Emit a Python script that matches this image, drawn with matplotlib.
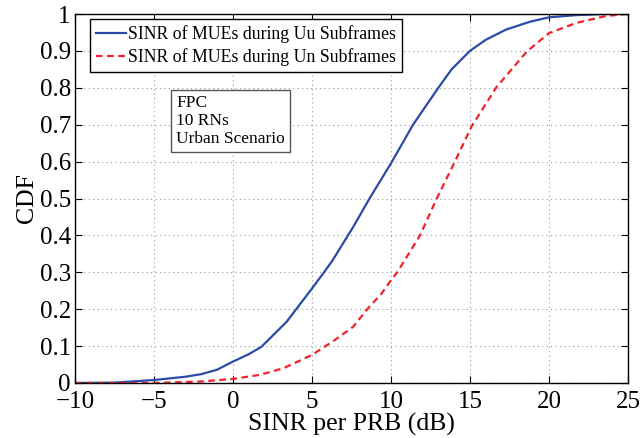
import matplotlib
matplotlib.use("Agg")
from matplotlib import pyplot as plt

# SINR per PRB (dB) vs CDF
uu_x = [-10, -7.5, -5, -3, -2, -1, 0, 1, 1.8, 3.4, 5, 5.8, 6.3, 7.6, 8.7, 10,
        11.4, 13.0, 13.84, 15, 16, 17.3, 18.8, 20, 21.75, 23.5, 25]
uu_y = [0, 0.001, 0.008, 0.017, 0.024, 0.036, 0.058, 0.078, 0.098, 0.166, 0.256,
        0.302, 0.332, 0.422, 0.504, 0.595, 0.70, 0.80, 0.85, 0.90, 0.93, 0.958,
        0.979, 0.991, 0.997, 1.0, 1.0]

un_x = [-10, -5, -2, 0, 1.7, 3.2, 5, 6.3, 7.6, 8.5, 9.4, 10, 10.4, 11.84, 12.9,
        14.05, 15.1, 16.7, 18.6, 20, 21.75, 23.65, 25]
un_y = [0, 0.0, 0.004, 0.011, 0.022, 0.04, 0.076, 0.112, 0.152, 0.2, 0.242, 0.278,
        0.3, 0.4, 0.5, 0.6, 0.695, 0.803, 0.898, 0.948, 0.976, 0.995, 1.0]

x_ticks = [-10, -5, 0, 5, 10, 15, 20, 25]
y_ticks = [0, 0.1, 0.2, 0.3, 0.4, 0.5, 0.6, 0.7, 0.8, 0.9, 1]
y_labels = ["0", "0.1", "0.2", "0.3", "0.4", "0.5", "0.6", "0.7", "0.8", "0.9", "1"]

plt.rcParams["font.family"] = ["Liberation Serif", "DejaVu Serif"]

fig = plt.figure(figsize=(6.42, 4.38), dpi=100)
ax = fig.add_axes([0.1168, 0.1256, 0.8612, 0.8424])

ax.plot(uu_x, uu_y, "-", color="#2b4ba8", linewidth=1.6,
        label="SINR of MUEs during Uu Subframes")
ax.plot(un_x, un_y, "--", color="#f0222a", linewidth=1.6, dashes=(3, 2),
        label="SINR of MUEs during Un Subframes")

ax.set_xlim(-10, 25)
ax.set_ylim(0, 1)
ax.set_xticks(x_ticks)
ax.set_xticklabels(["\u2212" + str(-t) if t < 0 else str(t) for t in x_ticks])
ax.set_yticks(y_ticks)
ax.set_yticklabels(y_labels)
ax.tick_params(direction="in", length=5, top=True, right=True, labelsize=18)
ax.tick_params(axis="x", pad=6)
ax.tick_params(axis="y", pad=3)
ax.grid(True, linestyle=(0, (1, 3)), color="#999999", linewidth=0.8)
for s in ax.spines.values():
    s.set_linewidth(1.0)

ax.set_xlabel("SINR per PRB (dB)", fontsize=18.5, labelpad=0)
ax.set_ylabel("CDF", fontsize=18.5, labelpad=1)

leg = ax.legend(loc="upper left", bbox_to_anchor=(0.027, 0.987), fontsize=12.8,
                handlelength=1.7, handletextpad=0.1, borderpad=0.35,
                labelspacing=0.3, fancybox=False, framealpha=1, borderaxespad=0)
leg.get_frame().set_edgecolor("black")
leg.get_frame().set_linewidth(1.0)

ax.text(0.183, 0.78, "FPC\n10 RNs\nUrban Scenario", transform=ax.transAxes,
        fontsize=12.5, va="top", ha="left", linespacing=1.15,
        bbox=dict(boxstyle="square,pad=0.3", facecolor="white", edgecolor="#555555",
                  linewidth=1.0))

fig.savefig("out.png", dpi=100)
